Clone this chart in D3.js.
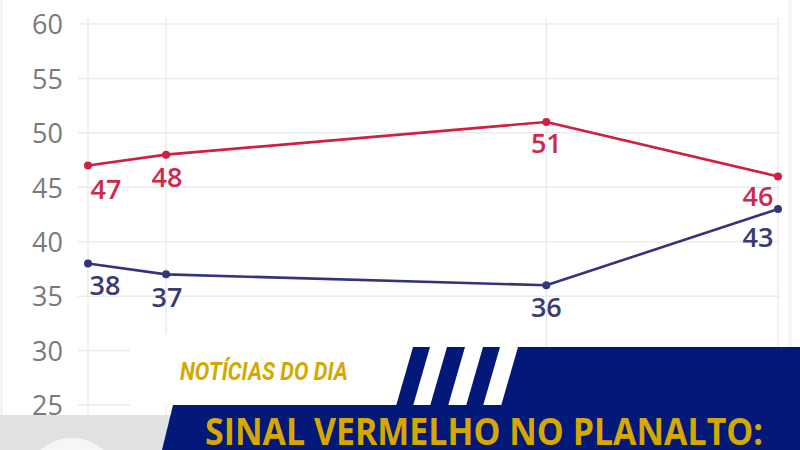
<!DOCTYPE html>
<html><head><meta charset="utf-8">
<script src="https://cdn.jsdelivr.net/npm/d3@7/dist/d3.min.js"></script>
<style>html,body{margin:0;padding:0;background:#fff;overflow:hidden}</style>
</head><body>
<svg id="c" width="800" height="450"></svg>
<script>
const dates = ["2024-12-01","2025-01-01","2025-06-01","2025-09-01"];
const redValues = [47, 48, 51, 46];
const blueValues = [38, 37, 36, 43];
const yTicks = [25, 30, 35, 40, 45, 50, 55, 60];
const kicker = "NOTÍCIAS DO DIA";
const headline = "SINAL VERMELHO NO PLANALTO:";

const parse = d3.timeParse("%Y-%m-%d");
const xDates = dates.map(parse);
const svg = d3.select("#c");

const x = d3.scaleTime().domain([xDates[0], xDates[xDates.length-1]]).range([88, 778]);
const y = d3.scaleLinear().domain([25, 60]).range([405, 24]);

svg.append("rect").attr("x",0).attr("y",0).attr("width",800).attr("height",450).attr("fill","#fff");
svg.append("line").attr("x1",1.5).attr("x2",1.5).attr("y1",0).attr("y2",416).attr("stroke","#eeeeee").attr("stroke-width",2);
svg.append("line").attr("x1",790).attr("x2",790).attr("y1",0).attr("y2",416).attr("stroke","#f3f3f3").attr("stroke-width",3);

// gridlines
const grid = svg.append("g");
grid.selectAll("line.h").data(yTicks).join("line")
  .attr("x1",78).attr("x2",780).attr("y1",d=>y(d)).attr("y2",d=>y(d))
  .attr("stroke","#ececec").attr("stroke-width",1.5);
grid.selectAll("line.v").data(xDates).join("line")
  .attr("x1",d=>x(d)).attr("x2",d=>x(d)).attr("y1",18).attr("y2",416)
  .attr("stroke","#ececec").attr("stroke-width",1.5);

// y axis labels
const yAxis = d3.axisLeft(y).tickValues(yTicks).tickSize(0).tickPadding(0);
const ya = svg.append("g").attr("transform","translate(63,0)").call(yAxis);
ya.select(".domain").remove();
ya.selectAll("text").attr("font-family","Open Sans").attr("font-size",27).attr("fill","#7a7a7a").attr("dy","0.36em");

// lines
const line = d3.line().x((d,i)=>x(xDates[i])).y(d=>y(d));
const series = [
  {vals: redValues, color:"#cf1f43", text:"#cc2a4c",
   off:[[18,33],[1,32],[0,31],[-20,30]]},
  {vals: blueValues, color:"#34347c", text:"#3b3b74",
   off:[[17,32],[1,33],[0,32],[-20,38]]}
];
series.forEach(s=>{
  svg.append("path").datum(s.vals).attr("d",line).attr("fill","none")
    .attr("stroke",s.color).attr("stroke-width",2.6).attr("stroke-linejoin","round");
  svg.selectAll(null).data(s.vals).join("circle")
    .attr("cx",(d,i)=>x(xDates[i])).attr("cy",d=>y(d)).attr("r",4).attr("fill",s.color);
  svg.selectAll(null).data(s.vals).join("text")
    .attr("x",(d,i)=>x(xDates[i])+s.off[i][0]).attr("y",(d,i)=>y(d)+s.off[i][1])
    .attr("text-anchor","middle").attr("font-family","Open Sans").attr("font-weight",600)
    .attr("font-size",27).attr("fill",s.text).text(d=>d);
});

// overlay: white box behind kicker
svg.append("rect").attr("x",130).attr("y",334).attr("width",290).attr("height",72).attr("fill","#fff");
// gray band bottom-left
svg.append("rect").attr("x",0).attr("y",415).attr("width",180).attr("height",35).attr("fill","#e1e1e1");
svg.append("circle").attr("cx",72).attr("cy",486).attr("r",48).attr("fill","#f6f6f6");

const navy = "#03197a";
svg.append("polygon").attr("points","413,347 800,347 800,406 396,406").attr("fill",navy);
const stripes = [[430,447],[465,483],[500,518]];
stripes.forEach(s=>{
  svg.append("polygon").attr("points",`${s[0]},347 ${s[1]},347 ${s[1]-17},406 ${s[0]-17},406`).attr("fill","#fff");
});
svg.append("polygon").attr("points","173,405 800,405 800,450 162,450").attr("fill",navy);

svg.append("text").attr("x",180).attr("y",380).attr("font-family","Roboto").attr("font-weight",700)
  .attr("font-style","italic").attr("font-size",25).attr("fill","#d4a800")
  .attr("textLength",168).attr("lengthAdjust","spacingAndGlyphs").text(kicker);
svg.append("text").attr("x",205).attr("y",445).attr("font-family","Open Sans").attr("font-weight",700)
  .attr("font-size",37).attr("fill","#d4a800")
  .attr("textLength",558).attr("lengthAdjust","spacingAndGlyphs").text(headline);
</script>
</body></html>
